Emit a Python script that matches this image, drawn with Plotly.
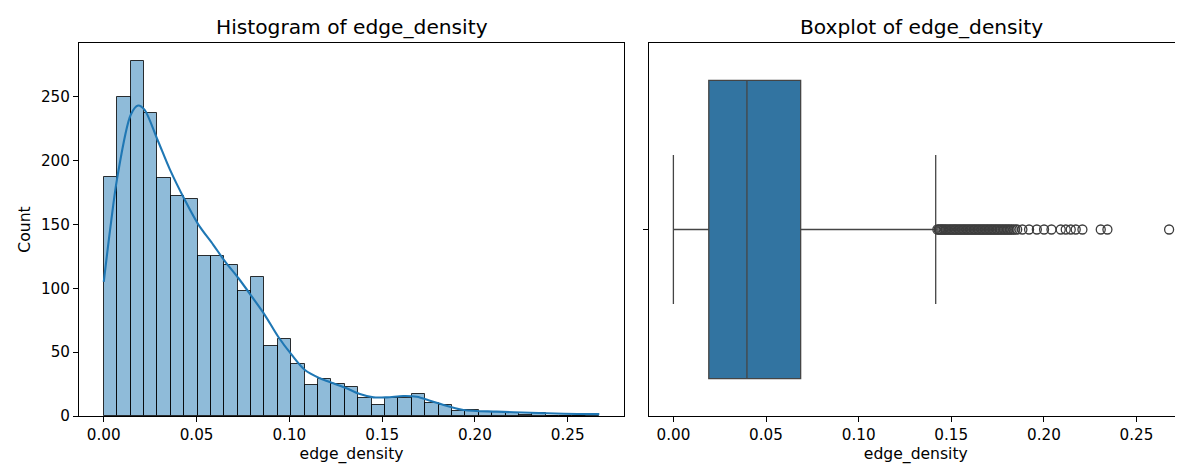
import plotly.graph_objects as go

# ---------------- data ----------------
bin_start = 0.0
bin_end = 0.267
counts = [187, 250, 278, 237, 186, 172, 170, 125, 125, 118, 98, 109, 55, 60, 41,
          24, 29, 25, 23, 14, 9, 14, 14, 17, 10, 9, 4, 5, 3, 3, 2, 1, 2, 0, 0, 0, 1]

kde_x = [0.0, 0.0036, 0.0072, 0.0146, 0.0185, 0.0218, 0.029, 0.0356, 0.0437, 0.0509,
         0.059, 0.0653, 0.0725, 0.0805, 0.0868, 0.094, 0.1012, 0.1084, 0.1165, 0.1237,
         0.1309, 0.138, 0.1453, 0.1525, 0.1614, 0.1686, 0.1758, 0.1812, 0.1938,
         0.2118, 0.2298, 0.2477, 0.267]
kde_y = [105, 148, 186, 236, 243, 240, 216, 193, 169, 150, 134, 121, 108, 92, 79,
         62, 48, 36, 29.5, 25.6, 21.7, 17.2, 14.6, 14.6, 15.7, 15.1, 12, 9.5, 4.7,
         3.4, 2.6, 1.8, 1.5]

box_min = 0.0
box_q1 = 0.0191
box_median = 0.0397
box_q3 = 0.0687
box_upper = 0.1416
outliers = [0.1425, 0.1432, 0.1440, 0.1446, 0.1452, 0.1459, 0.1466, 0.1472, 0.1480,
            0.1488, 0.1495, 0.1503, 0.1510, 0.1517, 0.1524, 0.1531, 0.1539, 0.1546,
            0.1553, 0.1561, 0.1568, 0.1575, 0.1583, 0.1590, 0.1597, 0.1605, 0.1612,
            0.1620, 0.1627, 0.1634, 0.1642, 0.1649, 0.1656, 0.1664, 0.1671, 0.1678,
            0.1686, 0.1693, 0.1700, 0.1708, 0.1715, 0.1722, 0.1730, 0.1737, 0.1745,
            0.1752, 0.1760, 0.1768, 0.1776, 0.1784, 0.1792, 0.1800, 0.1808, 0.1816,
            0.1825, 0.1834, 0.1845, 0.1856,
            0.1884, 0.1920, 0.1962, 0.2001, 0.2041, 0.2091, 0.2118, 0.2145, 0.2172,
            0.2208, 0.2307, 0.2343, 0.2676]

x_ticks = [0.00, 0.05, 0.10, 0.15, 0.20, 0.25]
y_ticks = [0, 50, 100, 150, 200, 250]

# ---------------- derived ----------------
n_bins = len(counts)
bw = (bin_end - bin_start) / n_bins
centers = [bin_start + bw * (i + 0.5) for i in range(n_bins)]

FONT = "DejaVu Sans"
TICK = 15.2
LABEL = 15.6
TITLE = 20.2

fig = go.Figure()

fig.add_trace(go.Bar(
    x=centers, y=counts, width=bw,
    marker=dict(color="rgba(31,119,180,0.5)", line=dict(color="rgba(0,0,0,0.8)", width=1)),
    xaxis="x", yaxis="y", showlegend=False, hoverinfo="skip"))

fig.add_trace(go.Scatter(
    x=kde_x, y=kde_y, mode="lines",
    line=dict(color="#1f77b4", width=2.1, shape="spline", smoothing=0.9),
    xaxis="x", yaxis="y", showlegend=False))

fig.add_trace(go.Box(
    y=[0], q1=[box_q1], median=[box_median], q3=[box_q3],
    lowerfence=[box_min], upperfence=[box_upper],
    orientation="h", width=0.8, whiskerwidth=0.5,
    fillcolor="#3274a1", line=dict(color="#454545", width=1.3),
    boxpoints=False, xaxis="x2", yaxis="y2", showlegend=False))

fig.add_trace(go.Scatter(
    x=outliers, y=[0] * len(outliers), mode="markers",
    marker=dict(symbol="circle-open", size=9, color="#3d3d3d", line=dict(width=1.3)),
    xaxis="x2", yaxis="y2", showlegend=False))

axis_common = dict(showgrid=False, zeroline=False, showline=True, linecolor="black",
                   linewidth=1, ticks="outside", ticklen=5, tickwidth=1, tickcolor="black",
                   automargin=False,
                   tickfont=dict(family=FONT, size=TICK, color="black"))

# page body adds an 8px offset; the figure is sized so it ends at the window edge
fig.update_layout(
    width=1175, height=461,
    margin=dict(l=71, r=0, t=35, b=53),
    paper_bgcolor="white", plot_bgcolor="white",
    bargap=0,
    xaxis=dict(domain=[0, 0.4937], range=[-0.01335, 0.28035], tickvals=x_ticks,
               tickformat=".2f", mirror=True,
               title=dict(text="edge_density", font=dict(family=FONT, size=LABEL, color="black"), standoff=4),
               **axis_common),
    yaxis=dict(domain=[0, 1], range=[0, 291.9], tickvals=y_ticks, mirror=True,
               title=dict(text="Count", font=dict(family=FONT, size=LABEL, color="black"), standoff=6),
               **axis_common),
    xaxis2=dict(domain=[0.516, 1], range=[-0.01335, 0.2751], tickvals=x_ticks,
                tickformat=".2f", mirror=True, anchor="y2",
                title=dict(text="edge_density", font=dict(family=FONT, size=LABEL, color="black"), standoff=4),
                **axis_common),
    yaxis2=dict(domain=[0, 1], range=[-0.5, 0.5], tickvals=[0], ticktext=[""],
                mirror=False, anchor="x2", **axis_common),
    annotations=[
        dict(text="Histogram of edge_density", xref="paper", yref="paper",
             x=0.4937 / 2, y=1, xanchor="center", yanchor="bottom", yshift=2,
             showarrow=False, font=dict(family=FONT, size=TITLE, color="black")),
        dict(text="Boxplot of edge_density", xref="paper", yref="paper",
             x=(0.516 + 1.0099) / 2, y=1, xanchor="center", yanchor="bottom", yshift=2,
             showarrow=False, font=dict(family=FONT, size=TITLE, color="black")),
    ],
)

fig.write_html("out.html")
